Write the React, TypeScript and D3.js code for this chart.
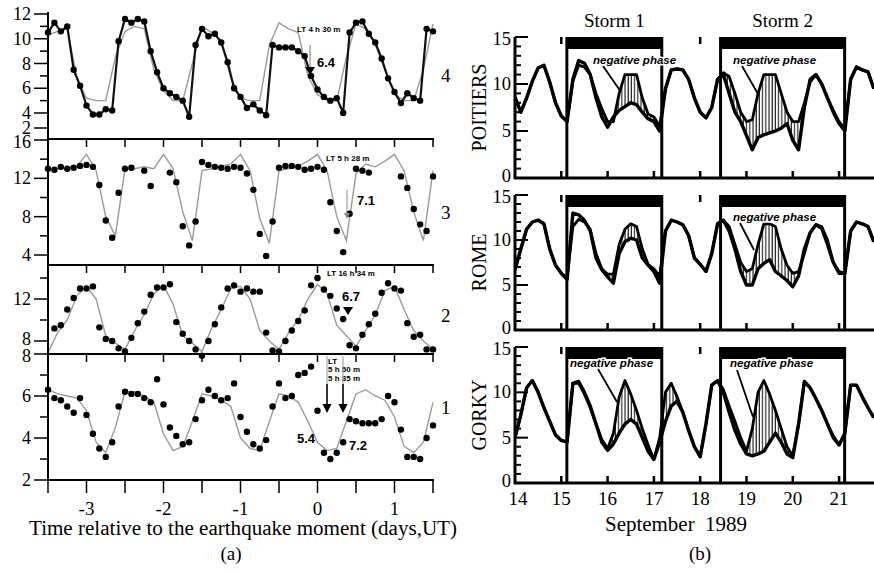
import React from 'react';
import * as d3 from 'd3';

const W = 874;
const H = 573;
const serif = '"Liberation Serif", "Times New Roman", Times, serif';
const sans = '"Liberation Sans", Arial, Helvetica, sans-serif';

// ---------- (a) foF2 around the earthquakes ----------
const tStartA = -3.5;
const tEndA = 1.5;
const dotStep = 1 / 12; // 2 h
const grayStep = 1 / 8; // 3 h
const xTicksA = [-3, -2, -1, 0, 1];

const dots4 = [10.5, 11.3, 10.6, 11.0, 7.5, 6.2, 4.6, 3.8, 3.8, 4.3, 4.2, 9.8, 11.6, 11.3, 11.6, 11.4, 9.0, 7.3, 6.0, 5.6,
  5.3, 5.0, 3.5, 9.5, 10.8, 10.2, 10.4, 9.7, 8.1, 6.0, 5.3, 4.4, 4.7, 4.2, 3.7, 9.5, 9.3, 9.3, 9.3, 9.0,
  8.6, 7.0, 5.9, 5.3, 5.0, 5.2, 4.0, 10.5, 11.3, 11.4, 10.4, 9.7, 8.4, 6.8, 5.7, 4.8, 5.6, 5.2, 5.0, 10.8, 10.6];
const gray4 = [10.3, 10.6, 10.8, 6.8, 5.2, 5.0, 5.0, 8.5, 10.6, 11.0, 10.8, 7.5, 5.8, 5.0, 5.0, 8.0, 11.0, 10.5, 9.8, 6.8,
  5.2, 5.0, 5.0, 9.5, 11.3, 10.8, 10.5, 7.0, 5.5, 5.0, 5.0, 8.5, 11.2, 10.8, 9.5, 7.5, 5.5, 5.0, 5.0, 7.5, 11.2];

const dots3 = [13.0, 12.9, 13.2, 13.0, 13.1, 13.3, 13.4, 13.2, 11.3, 7.6, 5.8, 10.5, 13.0, 13.1, null, 12.8, 11.2, null, null, 12.6,
  11.6, 7.0, 5.0, 7.5, 13.7, 13.4, 13.2, 13.1, 13.0, 13.2, 13.1, 12.5, 10.8, 6.2, 3.9, 7.5, 13.1, 13.3, 13.3, 13.2,
  12.9, 13.0, 13.2, 12.9, 9.5, 6.5, 4.3, 8.3, 13.0, 12.8, 12.6, null, null, null, null, 12.2, 11.0, 8.8, 7.2, 6.5, 12.2];
const gray3 = [12.8, 13.0, 13.0, 13.3, 14.5, 12.8, 8.0, 6.0, 13.0, 13.0, 13.2, 13.0, 14.5, 13.0, 8.5, 5.5, 12.8, 13.0, 13.3, 13.5,
  14.5, 12.8, 7.8, 5.2, 12.8, 13.0, 13.3, 13.8, 14.5, 12.8, 8.0, 5.5, 12.5, 13.5, 13.2, 13.8, 14.5, 12.8, 8.5, 5.5, 12.8];

const dots2 = [null, 9.2, 9.5, 11.0, 12.1, 13.0, 13.0, 13.2, 9.3, 8.2, 8.0, 7.3, 7.0, 8.3, 9.7, 10.8, 12.4, 13.1, 13.1, 13.4,
  9.8, 8.7, 8.0, 7.2, 6.6, 8.0, 9.6, 11.2, 13.0, 13.3, 12.7, 13.0, 12.7, 12.7, 8.8, 7.1, 7.0, 8.0, 9.0, 9.9,
  10.9, 13.3, 14.0, 12.9, 12.3, 11.1, 10.1, 7.6, 7.3, 8.6, 9.6, 10.6, 12.6, 13.5, 13.0, 12.8, 9.7, 8.4, 8.6, 7.2, 7.2];
const gray2 = [6.9, 8.8, 10.0, 12.3, 13.2, 12.0, 8.5, 7.8, 7.2, 9.0, 10.5, 12.5, 13.3, 11.5, 8.5, 7.8, 7.0, 9.2, 11.0, 13.0,
  13.2, 12.0, 9.0, 8.0, 7.2, 8.8, 10.0, 12.0, 13.4, 12.5, 9.5, 8.5, 7.5, 9.0, 10.5, 12.8, 13.2, 11.0, 9.0, 8.0, 7.2];

const dots1 = [6.3, 5.9, 5.8, 5.5, 5.2, 5.9, 5.1, 4.2, 3.5, 3.1, 3.8, 5.5, 6.2, 6.1, 6.1, 5.9, 5.7, 6.8, 5.6, 4.5,
  4.1, 3.7, 3.8, 4.9, 5.8, 6.3, 6.0, 5.8, 5.9, 6.6, 5.0, 4.3, 3.7, 3.5, 3.9, 5.5, 6.6, 5.9, 6.0, 7.0,
  7.1, 7.4, 5.3, 3.3, 3.0, 3.3, 3.8, 4.9, 4.8, 4.7, 4.7, 4.7, 4.9, 6.0, 5.7, 4.4, 3.1, 3.1, 3.0, 4.0, 4.6];
const gray1 = [6.3, 6.1, 6.0, 5.9, 5.3, 3.8, 3.3, 4.5, 6.2, 6.2, 6.0, 5.7, 4.2, 3.4, 3.6, 4.8, 6.1, 6.0, 5.8, 5.5,
  4.0, 3.5, 3.4, 4.8, 6.1, 6.0, 5.7, 4.8, 3.8, 3.4, 3.5, 4.8, 6.1, 6.3, 6.0, 5.8, 5.0, 3.6, 3.3, 3.8, 5.7];

// ---------- (b) September 1989 storms ----------
const dayStartB = 14;
const stepB = 1 / 8; // 3 h
const dayTicksB = [14, 15, 16, 17, 18, 19, 20, 21];
const storms = [[15.12, 17.17], [18.44, 21.12]];
const stormNames = ['Storm 1', 'Storm 2'];

const quietPoitiers = [8.6, 7.0, 8.5, 10.3, 11.7, 12.0, 10.2, 8.0, 6.6, 6.0, 10.3, 12.0, 11.8, 11.0, 9.0, 7.4,
  6.0, 6.0, 9.0, 11.0, 11.0, 11.0, 8.5, 6.8, 6.5, 5.5, 9.5, 11.5, 11.6, 11.5, 10.5, 8.5,
  7.0, 6.4, 7.5, 10.5, 11.2, 10.8, 9.0, 7.0, 6.0, 6.2, 9.0, 11.0, 11.0, 11.0, 9.0, 7.0,
  6.0, 6.0, 8.0, 10.2, 11.0, 10.0, 8.5, 7.2, 6.0, 5.2, 10.5, 11.8, 11.5, 11.3, 9.5];
const obsPoitiers = [8.6, 7.0, 8.5, 10.3, 11.7, 12.0, 10.2, 8.0, 6.6, 6.0, 10.5, 12.5, 12.2, 11.0, 8.5, 6.5,
  5.4, 6.5, 7.2, 7.6, 8.0, 7.8, 7.0, 6.3, 6.0, 5.0, 9.5, 11.5, 11.6, 11.5, 10.5, 8.5,
  7.0, 6.4, 7.5, 10.5, 11.0, 9.0, 7.0, 6.0, 4.5, 3.0, 4.3, 4.6, 4.8, 5.0, 5.3, 5.8,
  4.0, 3.0, 7.5, 10.5, 11.0, 10.0, 8.5, 7.0, 5.8, 5.0, 10.5, 11.8, 11.5, 11.3, 9.5];

const quietRome = [6.7, 9.0, 11.2, 12.0, 12.2, 11.8, 9.0, 7.2, 6.3, 5.8, 11.5, 12.3, 12.0, 11.2, 8.5, 6.8,
  6.2, 6.2, 9.5, 11.2, 11.8, 11.5, 9.0, 7.3, 6.8, 6.0, 11.0, 12.2, 12.0, 11.7, 10.5, 8.0,
  7.3, 6.5, 8.5, 11.8, 12.2, 11.5, 9.5, 7.5, 6.5, 6.8, 9.5, 11.8, 11.8, 11.5, 9.0, 7.2,
  6.3, 6.5, 8.5, 10.8, 11.7, 11.5, 10.0, 7.5, 6.5, 6.3, 11.0, 12.0, 11.8, 11.5, 9.8];
const obsRome = [6.7, 9.0, 11.2, 12.0, 12.2, 11.8, 9.0, 7.2, 6.3, 5.6, 13.0, 12.8, 12.2, 11.0, 8.0, 6.7,
  5.9, 5.2, 8.5, 9.8, 10.2, 10.0, 8.0, 7.2, 6.5, 5.2, 11.0, 12.2, 12.0, 11.7, 10.5, 8.0,
  7.3, 6.5, 8.5, 11.8, 12.2, 11.0, 9.0, 6.5, 5.0, 5.0, 6.8, 7.4, 7.8, 6.5, 6.0, 5.5,
  4.8, 6.0, 9.0, 10.8, 11.7, 11.3, 9.5, 7.5, 6.3, 6.3, 11.0, 12.0, 11.8, 11.5, 9.8];

const quietGorky = [5.0, 7.5, 10.5, 11.3, 10.0, 8.3, 6.8, 5.3, 4.7, 4.5, 11.0, 11.0, 9.8, 8.3, 6.5, 4.8,
  3.8, 5.5, 9.5, 11.3, 9.8, 8.0, 6.0, 4.2, 2.6, 5.0, 10.0, 11.0, 9.5, 7.8, 5.8, 4.0,
  2.9, 6.5, 10.8, 11.3, 10.3, 8.5, 6.8, 5.0, 3.5, 6.0, 10.0, 11.3, 9.8, 8.0, 6.0, 4.0,
  3.0, 6.5, 11.2, 10.5, 9.3, 8.0, 6.5, 5.2, 4.2, 5.5, 10.8, 10.8, 9.5, 8.3, 7.2];
const obsGorky = [5.0, 7.5, 10.5, 11.3, 10.0, 8.3, 6.8, 5.3, 4.7, 4.5, 11.0, 11.2, 10.0, 8.5, 6.5, 4.5,
  3.6, 4.3, 5.5, 6.5, 7.0, 6.5, 5.0, 3.5, 2.6, 4.5, 6.8, 8.5, 9.0, 7.8, 5.8, 4.0,
  2.9, 6.5, 10.8, 11.3, 10.0, 7.8, 5.8, 4.3, 3.2, 3.0, 3.2, 3.5, 4.5, 5.5, 4.5, 3.2,
  2.8, 6.5, 11.2, 10.5, 9.3, 8.0, 6.5, 5.0, 4.2, 5.5, 10.8, 10.8, 9.5, 8.3, 7.2];

const stations = ['POITIERS', 'ROME', 'GORKY'];

export default function App() {
  const xA = d3.scaleLinear().domain([tStartA, tEndA]).range([48, 433]);
  const halfDays = d3.range(tStartA, tEndA + 0.01, 0.5);

  const panelsA = [
    { num: '4', dots: dots4, gray: gray4, line: true, dom: [2, 4, 12], rng: [128, 113, 14], major: [12, 10, 8, 6, 4, 2], minor: [11, 9, 7, 5], top: 12, bottom: 139, numY: 75, lab: { 2: 0 } as Record<number, number> },
    { num: '3', dots: dots3, gray: gray3, line: false, dom: [4, 16], rng: [255, 140], major: [16, 12, 8, 4], minor: [14, 10, 6], top: 139, bottom: 265, numY: 212, lab: { 16: 2 } as Record<number, number> },
    { num: '2', dots: dots2, gray: gray2, line: false, dom: [8, 12], rng: [341, 299], major: [12, 8], minor: [14, 10], top: 265, bottom: 354, numY: 315, lab: { 8: -2 } as Record<number, number> },
    { num: '1', dots: dots1, gray: gray1, line: false, dom: [2, 8], rng: [480, 354], major: [8, 6, 4, 2], minor: [7, 5, 3], top: 354, bottom: 480, numY: 407, lab: { 8: 2 } as Record<number, number> },
  ];

  const xB = d3.scaleLinear().domain([dayStartB, 21.754]).range([515, 874]);
  const panelsB = [
    { name: stations[0], quiet: quietPoitiers, obs: obsPoitiers, top: 37, bottom: 178 },
    { name: stations[1], quiet: quietRome, obs: obsRome, top: 195, bottom: 330 },
    { name: stations[2], quiet: quietGorky, obs: obsGorky, top: 347, bottom: 483 },
  ];

  const negLabels = [
    { x: 593, y: 60, x1: 603, y1: 66, x2: 621, y2: 92 },
    { x: 733, y: 60, x1: 742, y1: 66, x2: 758, y2: 94 },
    { x: 733, y: 217, x1: 740, y1: 223, x2: 754, y2: 250 },
    { x: 570, y: 363, x1: 598, y1: 369, x2: 617, y2: 402 },
    { x: 730, y: 363, x1: 737, y1: 370, x2: 753, y2: 417 },
  ];

  const tri = (x: number, y: number, w: number, h: number) => `M${x - w / 2},${y - h}L${x + w / 2},${y - h}L${x},${y}Z`;

  return (
    <svg width={W} height={H} viewBox={`0 0 ${W} ${H}`} style={{ position: 'absolute', left: 0, top: 0, background: '#fff' }}>
      <defs>
        <pattern id="hatch" width="3.2" height="10" patternUnits="userSpaceOnUse">
          <line x1="1" y1="0" x2="1" y2="10" stroke="#111" strokeWidth="1.1" />
        </pattern>
        {panelsB.map((p, i) => (
          <clipPath id={`clipB${i}`} key={i}>
            <rect x={515} y={p.top} width={W - 515} height={p.bottom - p.top} />
          </clipPath>
        ))}
      </defs>

      {/* ---------------- (a) ---------------- */}
      {panelsA.map(p => {
        const y = d3.scaleLinear().domain(p.dom).range(p.rng);
        const dotLine = d3.line<number | null>()
          .defined(v => v != null)
          .x((_, i) => xA(tStartA + i * dotStep))
          .y(v => y(v as number));
        const grayLine = d3.line<number>()
          .x((_, i) => xA(tStartA + i * grayStep))
          .y(v => y(v));
        return (
          <g key={p.num}>
            <path d={grayLine(p.gray) || ''} fill="none" stroke="#9a9a9a" strokeWidth={1.4} />
            {p.line && <path d={dotLine(p.dots) || ''} fill="none" stroke="#111" strokeWidth={2.2} />}
            {p.dots.map((v, i) => v == null ? null : (
              <circle key={i} cx={xA(tStartA + i * dotStep)} cy={y(v)} r={3.2} fill="#000" />
            ))}
            {p.major.map(v => (
              <g key={'M' + v}>
                <line x1={34} x2={48} y1={y(v)} y2={y(v)} stroke="#000" strokeWidth={1.5} />
                <text x={31} y={y(v) + (p.lab[v] || 0)} textAnchor="end" dominantBaseline="central"
                  fontFamily={serif} fontSize={18}>{v}</text>
              </g>
            ))}
            {p.minor.map(v => (
              <line key={'m' + v} x1={40} x2={48} y1={y(v)} y2={y(v)} stroke="#000" strokeWidth={1.5} />
            ))}
            {p.num !== '4' && (
              <g>
                <line x1={48} x2={434} y1={p.top} y2={p.top} stroke="#000" strokeWidth={2} />
                {halfDays.map(t => (
                  <line key={t} x1={xA(t)} x2={xA(t)} y1={p.top} y2={p.top + 8} stroke="#000" strokeWidth={1.5} />
                ))}
              </g>
            )}
            <text x={441} y={p.numY} dominantBaseline="central" fontFamily={serif} fontSize={19}>{p.num}</text>
          </g>
        );
      })}
      <line x1={48} x2={48} y1={12} y2={481} stroke="#000" strokeWidth={2} />
      <line x1={48} x2={434} y1={480} y2={480} stroke="#000" strokeWidth={2.2} />
      {halfDays.map(t => (
        <line key={t} x1={xA(t)} x2={xA(t)} y1={480} y2={493} stroke="#000" strokeWidth={1.5} />
      ))}
      {xTicksA.map(t => (
        <text key={t} x={xA(t)} y={508} textAnchor="middle" dominantBaseline="central" fontFamily={serif} fontSize={19}>{t}</text>
      ))}
      <text x={243} y={528} textAnchor="middle" dominantBaseline="central" fontFamily={serif} fontSize={20.5}
        textLength={428} lengthAdjust="spacingAndGlyphs">
        Time relative to the earthquake moment (days,UT)
      </text>
      <text x={231} y={553} textAnchor="middle" dominantBaseline="central" fontFamily={serif} fontSize={19}>(a)</text>

      {/* annotations (a) */}
      <g fontFamily={sans} fontWeight={700}>
        <text x={297} y={29} fontSize={8} dominantBaseline="central">LT 4 h 30 m</text>
        <line x1={310} x2={310} y1={45} y2={68} stroke="#777" strokeWidth={1} />
        <path d={tri(310, 75, 10, 8)} fill="#000" />
        <text x={317} y={62} fontSize={13} dominantBaseline="central">6.4</text>

        <text x={326} y={158} fontSize={8} dominantBaseline="central">LT 5 h 28 m</text>
        <line x1={347} x2={347} y1={190} y2={216} stroke="#888" strokeWidth={1} />
        <path d={tri(347, 219, 6, 6)} fill="#888" />
        <text x={357} y={200} fontSize={13} dominantBaseline="central">7.1</text>

        <text x={327} y={273} fontSize={8} dominantBaseline="central">LT 16 h 34 m</text>
        <text x={342} y={296} fontSize={13} dominantBaseline="central">6.7</text>
        <path d={tri(348, 315, 10, 8)} fill="#000" />

        <text x={328} y={361} fontSize={8} dominantBaseline="central">LT</text>
        <text x={328} y={369} fontSize={8} dominantBaseline="central">5 h 50 m</text>
        <text x={328} y={378} fontSize={8} dominantBaseline="central">5 h 35 m</text>
        <line x1={327} x2={327} y1={356} y2={405} stroke="#999" strokeWidth={1} />
        <line x1={343} x2={343} y1={356} y2={405} stroke="#999" strokeWidth={1} />
        <line x1={327} x2={327} y1={384} y2={405} stroke="#000" strokeWidth={1.5} />
        <line x1={343} x2={343} y1={384} y2={405} stroke="#000" strokeWidth={1.5} />
        <path d={tri(327, 413, 9, 9)} fill="#000" />
        <path d={tri(343, 413, 9, 9)} fill="#000" />
        <text x={297} y={438} fontSize={13} dominantBaseline="central">5.4</text>
        <text x={349} y={445} fontSize={13} dominantBaseline="central">7.2</text>
      </g>

      {/* ---------------- (b) ---------------- */}
      {stormNames.map((s, i) => (
        <text key={s} x={xB((storms[i][0] + storms[i][1]) / 2)} y={20} textAnchor="middle" dominantBaseline="central"
          fontFamily={serif} fontSize={19}>{s}</text>
      ))}
      {panelsB.map((p, pi) => {
        const y = d3.scaleLinear().domain([0, 15]).range([p.bottom, p.top]);
        const xk = (i: number) => xB(dayStartB + i * stepB);
        const line = d3.line<number>().x((_, i) => xk(i)).y(v => y(v));
        const hatch = d3.area<number>()
          .x((_, i) => xk(i))
          .y0((v, i) => y(p.quiet[i]))
          .y1((v, i) => y(Math.min(v, p.quiet[i])));
        return (
          <g key={p.name}>
            <g clipPath={`url(#clipB${pi})`}>
              <path d={hatch(p.obs) || ''} fill="url(#hatch)" />
              <path d={line(p.quiet) || ''} fill="none" stroke="#000" strokeWidth={2.8} strokeLinejoin="round" />
              <path d={line(p.obs) || ''} fill="none" stroke="#000" strokeWidth={3.4} strokeLinejoin="round" />
            </g>
            {storms.map((s, si) => (
              <g key={si}>
                <rect x={xB(s[0])} y={p.top} width={xB(s[1]) - xB(s[0])} height={12} fill="#000" />
                <line x1={xB(s[0])} x2={xB(s[0])} y1={p.top} y2={p.bottom} stroke="#000" strokeWidth={3} />
                <line x1={xB(s[1])} x2={xB(s[1])} y1={p.top} y2={p.bottom} stroke="#000" strokeWidth={3} />
              </g>
            ))}
            {d3.range(0, 16).map(v => (
              <line key={v} x1={515} x2={515 + (v % 5 === 0 ? 13 : 6)} y1={y(v)} y2={y(v)} stroke="#000" strokeWidth={2} />
            ))}
            {[15, 10, 5, 0].map(v => (
              <text key={v} x={511} y={y(v) + (v === 15 ? 2 : v === 0 ? -2 : 0)} textAnchor="end" dominantBaseline="central"
                fontFamily={serif} fontSize={18.5}>{v}</text>
            ))}
            {dayTicksB.slice(1).map(d => (
              <g key={d}>
                <line x1={xB(d)} x2={xB(d)} y1={p.bottom} y2={p.bottom - 7} stroke="#000" strokeWidth={2.5} />
                <line x1={xB(d)} x2={xB(d)} y1={p.top} y2={p.top + 7} stroke="#000" strokeWidth={2.5} />
              </g>
            ))}
            <line x1={515} x2={515} y1={p.top} y2={p.bottom + 1} stroke="#000" strokeWidth={3} />
            <line x1={514} x2={W} y1={p.bottom} y2={p.bottom} stroke="#000" strokeWidth={3} />
            <text transform={`translate(479,${(p.top + p.bottom) / 2}) rotate(-90)`} textAnchor="middle" dominantBaseline="central"
              fontFamily={serif} fontSize={20}>{p.name}</text>
          </g>
        );
      })}
      <g fontFamily={sans} fontWeight={700} fontStyle="italic" fontSize={11.5}>
        {negLabels.map((n, i) => (
          <g key={i}>
            <line x1={n.x1} y1={n.y1} x2={n.x2} y2={n.y2} stroke="#000" strokeWidth={1.8} />
            <text x={n.x} y={n.y} dominantBaseline="central" stroke="#fff" strokeWidth={3} paintOrder="stroke">negative phase</text>
          </g>
        ))}
      </g>
      {dayTicksB.map(d => (
        <text key={d} x={xB(d) + (d === 14 ? 3 : 0)} y={498} textAnchor="middle" dominantBaseline="central" fontFamily={serif} fontSize={19}>{d}</text>
      ))}
      <text x={676} y={524} textAnchor="middle" dominantBaseline="central" fontFamily={serif} fontSize={20}
        textLength={142} lengthAdjust="spacingAndGlyphs" style={{ whiteSpace: 'pre' }}>
        {'September  1989'}
      </text>
      <text x={700} y={553} textAnchor="middle" dominantBaseline="central" fontFamily={serif} fontSize={19}>(b)</text>
    </svg>
  );
}
